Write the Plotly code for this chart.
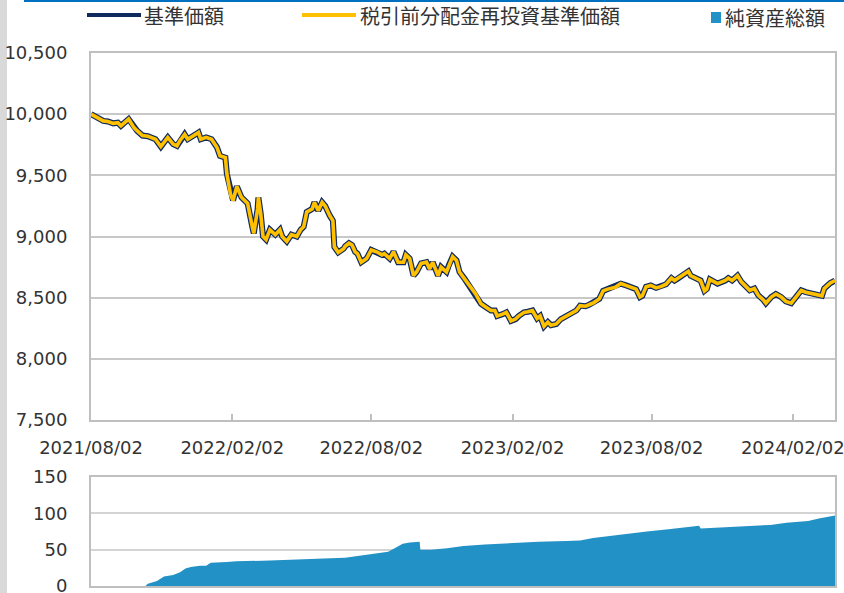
import plotly.graph_objects as go

# ---------------- data ----------------
nav_dates = [
    "2021-08-02", "2021-08-11", "2021-08-18", "2021-08-24", "2021-08-31", "2021-09-06", "2021-09-10",
    "2021-09-20", "2021-09-27", "2021-10-01", "2021-10-08", "2021-10-15", "2021-10-25", "2021-11-01",
    "2021-11-10", "2021-11-17", "2021-11-22", "2021-11-26", "2021-12-02", "2021-12-06", "2021-12-13",
    "2021-12-20", "2021-12-23", "2021-12-30", "2022-01-06", "2022-01-13", "2022-01-17", "2022-01-24",
    "2022-01-26", "2022-01-31", "2022-02-03", "2022-02-08", "2022-02-14", "2022-02-18", "2022-02-22",
    "2022-02-28", "2022-03-02", "2022-03-07", "2022-03-08", "2022-03-11", "2022-03-14", "2022-03-18",
    "2022-03-23", "2022-03-30", "2022-04-05", "2022-04-08", "2022-04-14", "2022-04-20", "2022-04-27",
    "2022-05-02", "2022-05-06", "2022-05-10", "2022-05-17", "2022-05-20", "2022-05-25", "2022-05-30",
    "2022-06-03", "2022-06-09", "2022-06-13", "2022-06-15", "2022-06-20", "2022-06-27", "2022-06-29",
    "2022-07-04", "2022-07-08", "2022-07-12", "2022-07-15", "2022-07-20", "2022-07-27", "2022-08-02",
    "2022-08-09", "2022-08-16", "2022-08-19", "2022-08-26", "2022-08-31", "2022-09-06", "2022-09-13",
    "2022-09-16", "2022-09-21", "2022-09-26", "2022-09-30", "2022-10-06", "2022-10-13", "2022-10-17",
    "2022-10-21", "2022-10-28", "2022-11-01", "2022-11-08", "2022-11-11", "2022-11-16", "2022-11-21",
    "2022-11-25", "2022-12-02", "2022-12-06", "2022-12-09", "2022-12-16", "2022-12-23", "2022-12-30",
    "2023-01-05", "2023-01-10", "2023-01-13", "2023-01-20", "2023-01-25", "2023-01-31", "2023-02-06",
    "2023-02-10", "2023-02-17", "2023-02-22", "2023-02-28", "2023-03-06", "2023-03-10", "2023-03-15",
    "2023-03-20", "2023-03-24", "2023-03-31", "2023-04-06", "2023-04-13", "2023-04-20", "2023-04-26",
    "2023-05-01", "2023-05-08", "2023-05-12", "2023-05-19", "2023-05-26", "2023-05-31", "2023-06-06",
    "2023-06-13", "2023-06-16", "2023-06-23", "2023-06-30", "2023-07-06", "2023-07-13", "2023-07-18",
    "2023-07-21", "2023-07-26", "2023-08-01", "2023-08-08", "2023-08-14", "2023-08-21", "2023-08-28",
    "2023-09-01", "2023-09-05", "2023-09-11", "2023-09-19", "2023-09-22", "2023-09-29", "2023-10-05",
    "2023-10-10", "2023-10-13", "2023-10-17", "2023-10-23", "2023-10-27", "2023-11-06", "2023-11-10",
    "2023-11-15", "2023-11-22", "2023-11-27", "2023-12-04", "2023-12-08", "2023-12-14", "2023-12-19",
    "2023-12-26", "2023-12-29", "2024-01-05", "2024-01-11", "2024-01-18", "2024-01-24", "2024-01-31",
    "2024-02-06", "2024-02-13", "2024-02-19", "2024-02-26", "2024-03-04", "2024-03-11", "2024-03-14",
    "2024-03-19", "2024-03-22", "2024-03-28",
]
nav_values = [
    10000, 9970, 9945, 9940, 9925, 9930, 9905,
    9960, 9890, 9865, 9825, 9820, 9795, 9735,
    9810, 9755, 9740, 9785, 9835, 9795, 9825,
    9850, 9795, 9810, 9795, 9730, 9660, 9645,
    9510, 9335, 9295, 9410, 9320, 9295, 9270,
    9080, 9025, 9225, 9320, 9190, 9000, 8975,
    9055, 9015, 9055, 9000, 8960, 9015, 9000,
    9055, 9080, 9200, 9225, 9280, 9210, 9280,
    9250, 9170, 9130, 8915, 8870, 8900, 8920,
    8945, 8930, 8875, 8860, 8790, 8820, 8890,
    8875, 8850, 8860, 8820, 8875, 8790, 8790,
    8850, 8820, 8680, 8710, 8780, 8790, 8735,
    8790, 8680, 8750, 8710, 8765, 8835, 8805,
    8710, 8650, 8610, 8590, 8530, 8450, 8420,
    8395, 8395, 8350, 8365, 8380, 8310, 8325,
    8350, 8380, 8385, 8395, 8330, 8350, 8265,
    8300, 8275, 8285, 8325, 8350, 8380, 8395,
    8435, 8430, 8440, 8460, 8490, 8555, 8570,
    8585, 8585, 8615, 8600, 8590, 8570, 8505,
    8515, 8590, 8600, 8580, 8590, 8610, 8660,
    8640, 8655, 8680, 8715, 8680, 8660, 8640,
    8555, 8570, 8650, 8630, 8615, 8640, 8660,
    8640, 8680, 8630, 8590, 8560, 8575, 8520,
    8480, 8455, 8505, 8530, 8505, 8470, 8455,
    8505, 8560, 8545, 8535, 8530, 8515, 8575,
    8610, 8620, 8640,
]
# In the picture the pre-tax reinvested NAV lies exactly on the NAV line (no distributions).
reinvest_values = [
    10000, 9970, 9945, 9940, 9925, 9930, 9905,
    9960, 9890, 9865, 9825, 9820, 9795, 9735,
    9810, 9755, 9740, 9785, 9835, 9795, 9825,
    9850, 9795, 9810, 9795, 9730, 9660, 9645,
    9510, 9335, 9295, 9410, 9320, 9295, 9270,
    9080, 9025, 9225, 9320, 9190, 9000, 8975,
    9055, 9015, 9055, 9000, 8960, 9015, 9000,
    9055, 9080, 9200, 9225, 9280, 9210, 9280,
    9250, 9170, 9130, 8915, 8870, 8900, 8920,
    8945, 8930, 8875, 8860, 8790, 8820, 8890,
    8875, 8850, 8860, 8820, 8875, 8790, 8790,
    8850, 8820, 8680, 8710, 8780, 8790, 8735,
    8790, 8680, 8750, 8710, 8765, 8835, 8805,
    8710, 8650, 8610, 8590, 8530, 8450, 8420,
    8395, 8395, 8350, 8365, 8380, 8310, 8325,
    8350, 8380, 8385, 8395, 8330, 8350, 8265,
    8300, 8275, 8285, 8325, 8350, 8380, 8395,
    8435, 8430, 8440, 8460, 8490, 8555, 8570,
    8585, 8585, 8615, 8600, 8590, 8570, 8505,
    8515, 8590, 8600, 8580, 8590, 8610, 8660,
    8640, 8655, 8680, 8715, 8680, 8660, 8640,
    8555, 8570, 8650, 8630, 8615, 8640, 8660,
    8640, 8680, 8630, 8590, 8560, 8575, 8520,
    8480, 8455, 8505, 8530, 8505, 8470, 8455,
    8505, 8560, 8545, 8535, 8530, 8515, 8575,
    8610, 8620, 8640,
]

asset_dates = [
    "2021-08-02", "2021-10-12", "2021-10-15", "2021-10-27", "2021-11-05", "2021-11-17", "2021-11-26",
    "2021-12-03", "2021-12-10", "2021-12-22", "2021-12-30", "2022-01-05", "2022-01-26", "2022-02-07",
    "2022-03-23", "2022-04-27", "2022-06-01", "2022-06-29", "2022-07-13", "2022-08-03", "2022-08-24",
    "2022-09-05", "2022-09-12", "2022-09-21", "2022-10-04", "2022-10-05", "2022-10-19", "2022-11-09",
    "2022-11-30", "2022-12-28", "2023-02-01", "2023-03-08", "2023-04-13", "2023-05-01", "2023-05-18",
    "2023-06-08", "2023-06-29", "2023-07-27", "2023-08-24", "2023-09-14", "2023-10-03", "2023-10-05",
    "2023-11-09", "2023-12-14", "2024-01-04", "2024-01-25", "2024-02-22", "2024-03-07", "2024-03-28",
]
asset_values = [
    0, 0, 3, 7, 13, 15, 19,
    24, 26, 28, 28, 32, 33, 34,
    35, 37, 38, 39, 41, 45, 47,
    54, 58, 60, 61, 50, 50, 52,
    55, 57, 59, 61, 62, 62.5, 66,
    69, 72, 75, 78, 80.5, 83, 79,
    80.5, 83, 84, 87, 89.6, 93, 97,
]

tick_dates = ["2021-08-02", "2022-02-02", "2022-08-02", "2023-02-02", "2023-08-02", "2024-02-02"]
tick_labels = ["2021/08/02", "2022/02/02", "2022/08/02", "2023/02/02", "2023/08/02", "2024/02/02"]
x_start, x_end = "2021-08-02", "2024-03-28"

legend_names = ["基準価額", "税引前分配金再投資基準価額", "純資産総額"]

# ---------------- style ----------------
W, H = 844, 593
NAVY = "#0F2A5E"
YELLOW = "#FFC000"
BLUE = "#2191C6"
GRID = "#c8c8c8"
AXIS = "#bfbfbf"
TXT = "#333333"
FONT = "DejaVu Sans"
CJK = "Noto Sans CJK JP"


def px(x):
    return x / W


def py(y):
    return 1 - y / H


fig = go.Figure()
fig.add_trace(go.Scatter(x=nav_dates, y=nav_values, mode="lines", name=legend_names[0],
                         line=dict(color=NAVY, width=6), xaxis="x", yaxis="y", showlegend=False))
fig.add_trace(go.Scatter(x=nav_dates, y=reinvest_values, mode="lines", name=legend_names[1],
                         line=dict(color=YELLOW, width=3.6), xaxis="x", yaxis="y", showlegend=False))
fig.add_trace(go.Scatter(x=asset_dates, y=asset_values, mode="lines", name=legend_names[2],
                         line=dict(color=BLUE, width=0), fill="tozeroy", fillcolor=BLUE,
                         xaxis="x2", yaxis="y2", showlegend=False))

xdom = [px(91), px(835)]
common_x = dict(type="date", range=[x_start, x_end], domain=xdom, showgrid=False, zeroline=False,
                showline=True, linecolor=AXIS, linewidth=2, mirror=True, automargin=False)

fig.update_layout(
    width=W, height=H, autosize=False,
    margin=dict(l=0, r=0, t=0, b=0),
    paper_bgcolor="white", plot_bgcolor="white",
    template="none",
    hovermode=False,
    xaxis=dict(**common_x, anchor="y", tickmode="array", tickvals=tick_dates, ticktext=tick_labels,
               ticks="inside", ticklen=6, tickwidth=2, tickcolor=AXIS, ticklabeloverflow="allow",
               tickfont=dict(family=FONT, size=18, color=TXT), ticklabelstandoff=10),
    yaxis=dict(domain=[py(420), py(53)], range=[7500, 10500], dtick=500, tick0=7500,
               tickformat=",d", showgrid=True, gridcolor=GRID, gridwidth=2, zeroline=False,
               showline=True, linecolor=AXIS, linewidth=2, mirror=True, automargin=False,
               ticks="", ticklabeloverflow="allow",
               tickfont=dict(family=FONT, size=18, color=TXT), ticklabelstandoff=18),
    xaxis2=dict(**common_x, anchor="y2", showticklabels=False, ticks=""),
    yaxis2=dict(domain=[py(586), py(477)], range=[0, 150], dtick=50, tick0=0,
                showgrid=True, gridcolor="#d4d4d4", gridwidth=1.5, zeroline=False,
                showline=True, linecolor=AXIS, linewidth=2, mirror=True, automargin=False,
                ticks="", ticklabeloverflow="allow",
                tickfont=dict(family=FONT, size=18, color=TXT), ticklabelstandoff=18),
)

shapes = [
    # left grey page strip and top blue rule
    dict(type="rect", xref="paper", yref="paper", x0=0, x1=px(7), y0=0, y1=1,
         fillcolor="#d9d9d9", line=dict(width=0), layer="below"),
    dict(type="rect", xref="paper", yref="paper", x0=px(24), x1=1, y0=py(2), y1=1,
         fillcolor="#0070C0", line=dict(width=0)),
    # legend samples
    dict(type="line", xref="paper", yref="paper", x0=px(87), x1=px(141), y0=py(15), y1=py(15),
         line=dict(color=NAVY, width=4)),
    dict(type="line", xref="paper", yref="paper", x0=px(302), x1=px(356), y0=py(15), y1=py(15),
         line=dict(color=YELLOW, width=4)),
    dict(type="rect", xref="paper", yref="paper", x0=px(711), x1=px(721), y0=py(23), y1=py(12),
         fillcolor=BLUE, line=dict(width=0)),
]
annotations = [
    dict(text=legend_names[0], xref="paper", yref="paper", x=px(142), y=py(16),
         xanchor="left", yanchor="middle", showarrow=False, font=dict(family=CJK, size=20, color=TXT)),
    dict(text=legend_names[1], xref="paper", yref="paper", x=px(358), y=py(16),
         xanchor="left", yanchor="middle", showarrow=False, font=dict(family=CJK, size=20, color=TXT)),
    dict(text=legend_names[2], xref="paper", yref="paper", x=px(723), y=py(17),
         xanchor="left", yanchor="middle", showarrow=False, font=dict(family=CJK, size=20, color=TXT)),
]
fig.update_layout(shapes=shapes, annotations=annotations)

# remove the browser's default 8px page margin so the figure sits at the window origin
fig.write_html("out.html", config={"displayModeBar": False},
               post_script="document.body.style.margin='0';document.body.style.overflow='hidden';")
